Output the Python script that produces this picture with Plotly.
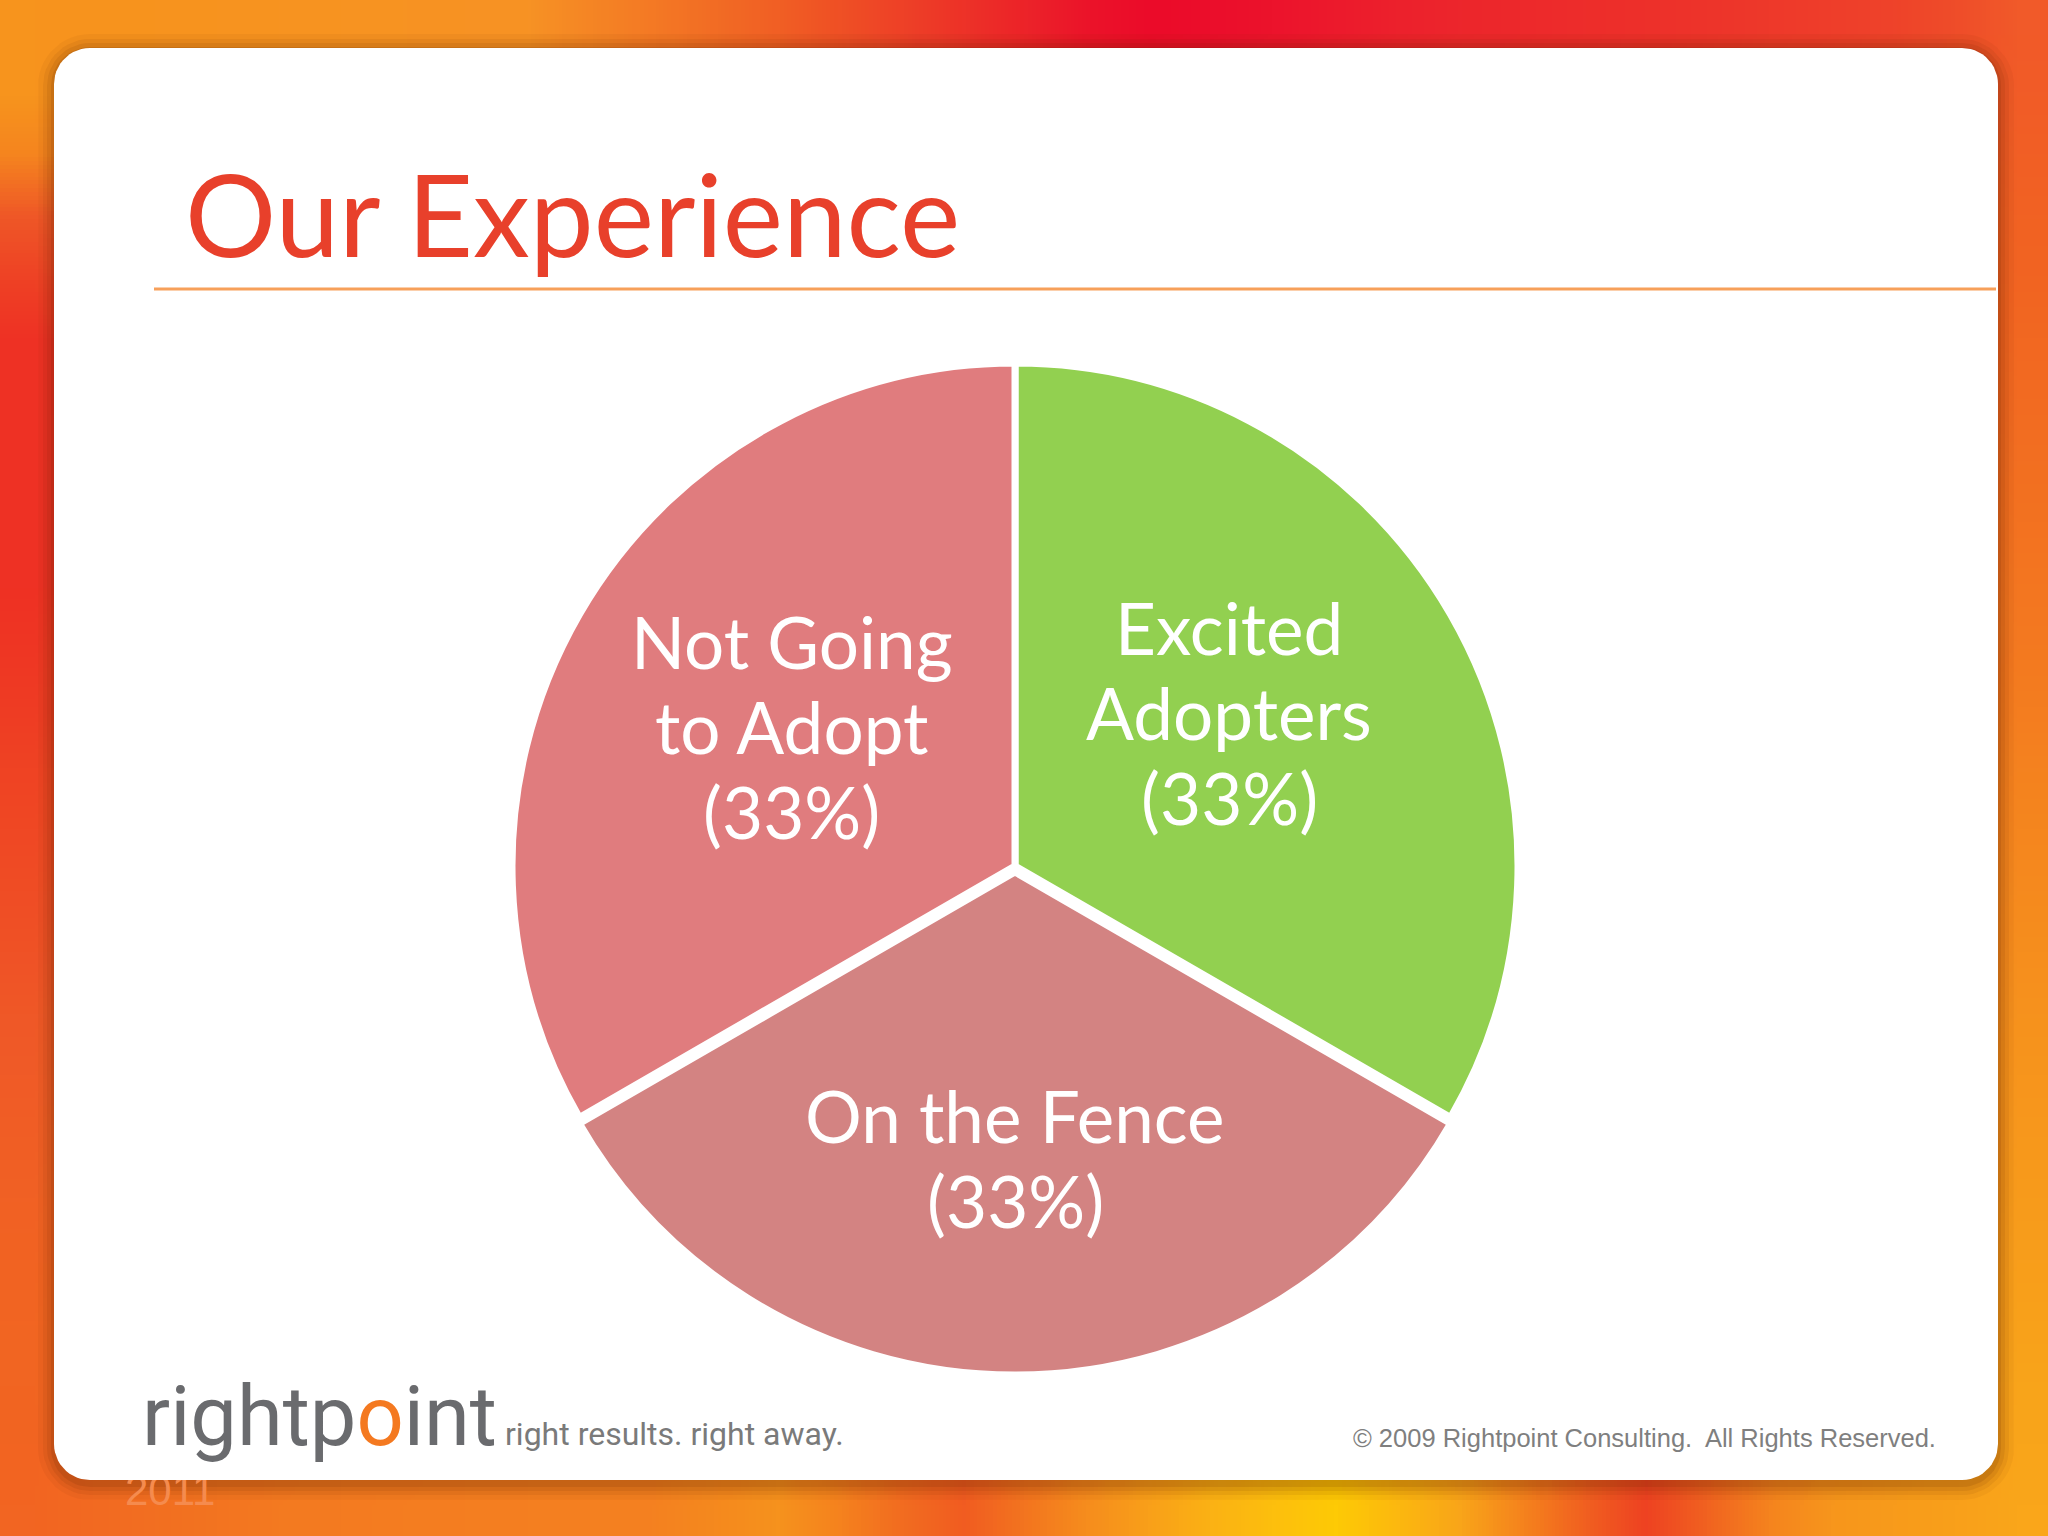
import base64, struct, zlib
import numpy as np
import plotly.graph_objects as go

# ---------------- data ----------------
labels = ["Excited Adopters", "On the Fence", "Not Going to Adopt"]
label_lines = [["Excited", "Adopters", "(33%)"], ["On the Fence", "(33%)"], ["Not Going", "to Adopt", "(33%)"]]
values = [33, 33, 33]
slice_colors = ["#92D050", "#D38382", "#E07C7E"]
pulls = [0, 0.012, 0]
label_radius = [0.52, 0.575, 0.52]
label_angle_shift = [-5, 0, 1.5]

title_text = "Our Experience"
copyright_text = "© 2009 Rightpoint Consulting.  All Rights Reserved."
tagline_text = "right results. right away."
year_text = "2011"

W, H = 2048, 1536

# ---------------- background image (decoration) ----------------
def interp_colors(points, n):
    pos = np.array([p[0] for p in points], dtype=float)
    cols = np.array([[int(p[1][i:i + 2], 16) for i in (1, 3, 5)] for p in points], dtype=float)
    t = np.linspace(0, 1, n)
    return np.stack([np.interp(t, pos, cols[:, c]) for c in range(3)], axis=1)

top_pts = [(0, "#F7941D"), (0.25, "#F89B22"), (0.38, "#F26A21"), (0.48, "#EF3D25"),
           (0.55, "#ED1C24"), (0.61, "#EE2427"), (0.70, "#EF3B26"), (0.83, "#F04E23"),
           (0.95, "#F26522"), (1.0, "#F47B20")]
bot_pts = [(0, "#F26522"), (0.13, "#F47B20"), (0.32, "#F58220"), (0.38, "#F7941D"),
           (0.465, "#F15A22"), (0.54, "#F7941D"), (0.605, "#FDB913"), (0.657, "#FFCB05"),
           (0.72, "#F9A51A"), (0.81, "#EE4023"), (0.89, "#F7941D"), (1.0, "#FAA61A")]
left_pts = [(0, "#F7941D"), (0.07, "#F7941D"), (0.12, "#F05A28"), (0.2, "#EE3124"),
            (0.38, "#EE3124"), (0.5, "#EF4323"), (0.68, "#F05A28"), (0.85, "#F26522"),
            (1.0, "#F26522")]
right_pts = [(0, "#F15A29"), (0.17, "#F26522"), (0.43, "#F47B20"), (0.68, "#F7941D"),
             (0.93, "#F9A51A"), (1.0, "#FAA61A")]

GW, GH = 33, 25
T = interp_colors(top_pts, GW)
B = interp_colors(bot_pts, GW)
L = interp_colors(left_pts, GH)
R = interp_colors(right_pts, GH)
u = np.linspace(0, 1, GW)[None, :, None]
v = np.linspace(0, 1, GH)[:, None, None]
coons = ((1 - v) * T[None, :, :] + v * B[None, :, :] + (1 - u) * L[:, None, :] + u * R[:, None, :]
         - ((1 - u) * (1 - v) * T[0] + u * (1 - v) * T[-1] + (1 - u) * v * B[0] + u * v * B[-1]))
img = np.clip(coons, 0, 255).astype(np.uint8)

def png_uri(a):
    h, w, _ = a.shape
    raw = b"".join(b"\x00" + a[i].tobytes() for i in range(h))
    def chunk(tag, data):
        c = tag + data
        return struct.pack(">I", len(data)) + c + struct.pack(">I", zlib.crc32(c) & 0xFFFFFFFF)
    png = (b"\x89PNG\r\n\x1a\n" + chunk(b"IHDR", struct.pack(">IIBBBBB", w, h, 8, 2, 0, 0, 0))
           + chunk(b"IDAT", zlib.compress(raw, 9)) + chunk(b"IEND", b""))
    return "data:image/png;base64," + base64.b64encode(png).decode()

def rounded_rect(x0, y0, x1, y1, r, n=14):
    xs, ys = [], []
    corners = [(x1 - r, y0 + r, -90, 0), (x1 - r, y1 - r, 0, 90),
               (x0 + r, y1 - r, 90, 180), (x0 + r, y0 + r, 180, 270)]
    for cx_, cy_, a0, a1 in corners:
        for a in np.linspace(np.radians(a0), np.radians(a1), n):
            xs.append(cx_ + r * np.cos(a))
            ys.append(cy_ + r * np.sin(a))
    xs.append(xs[0]); ys.append(ys[0])
    return xs, ys

fig = go.Figure()

# card shadow layers
card = (54, 48, 1998, 1480)
for e, op in [(16, 0.05), (11, 0.07), (7, 0.09), (3, 0.12)]:
    xs, ys = rounded_rect(card[0] - e, card[1] - e + 2, card[2] + e, card[3] + e + 4, 36 + e)
    fig.add_trace(go.Scatter(x=xs, y=ys, mode="lines", fill="toself", line=dict(width=0),
                             fillcolor=f"rgba(90,30,0,{op})", hoverinfo="skip", showlegend=False))

# faint year text (partly hidden by card)
fig.add_trace(go.Scatter(x=[125], y=[1494], mode="text", text=[year_text], textposition="middle right",
                         textfont=dict(family="Liberation Sans, Arial", size=42, color="#F58B4E"),
                         hoverinfo="skip", showlegend=False))

# white card
xs, ys = rounded_rect(*card, 36)
fig.add_trace(go.Scatter(x=xs, y=ys, mode="lines", fill="toself", line=dict(width=0),
                         fillcolor="#FFFFFF", hoverinfo="skip", showlegend=False))

# ---------------- pie ----------------
cx, cy, R0 = 1015, 866, 503
maxpull = max(pulls)
half = R0 * (1 + maxpull)
fig.add_trace(go.Pie(
    labels=labels, values=values, sort=False, direction="clockwise", rotation=0,
    marker=dict(colors=slice_colors, line=dict(color="white", width=7)),
    pull=pulls, textinfo="none", hoverinfo="label+percent", showlegend=False,
    domain=dict(x=[(cx - half) / W, (cx + half) / W], y=[1 - (cy + half) / H, 1 - (cy - half) / H]),
))

annotations = []
total = sum(values)
cum = 0
line_gap = 85
for lines, val, rf, pl, sh in zip(label_lines, values, label_radius, pulls, label_angle_shift):
    mid = ((cum + val / 2) / total * 360 + sh) * np.pi / 180
    cum += val
    rr = (rf + pl) * R0
    lx, ly = cx + rr * np.sin(mid), cy - rr * np.cos(mid)
    n = len(lines)
    for i, t in enumerate(lines):
        annotations.append(dict(x=lx, y=ly - 3 + (i - (n - 1) / 2) * line_gap, xref="x", yref="y",
                                text=t, showarrow=False, xanchor="center", yanchor="middle",
                                font=dict(family="Lato, Noto Sans, sans-serif", size=71, color="white")))

annotations += [
    dict(x=183, y=212, xref="x", yref="y", text=title_text, showarrow=False, xanchor="left",
         yanchor="middle", font=dict(family="Lato, Noto Sans, sans-serif", size=114, color="#E8402B")),
    dict(x=1938, y=1438, xref="x", yref="y", text=copyright_text, showarrow=False, xanchor="right",
         yanchor="middle", font=dict(family="Liberation Sans, Arial", size=25.5, color="#7F7F7F")),
    dict(x=140, y=1416, xref="x", yref="y",
         text="rightp<span style='color:#F47920'>o</span>int", showarrow=False, xanchor="left",
         yanchor="middle", font=dict(family="Roboto, sans-serif", size=83, color="#6A6B6E")),
    dict(x=503, y=1434, xref="x", yref="y", text=tagline_text, showarrow=False, xanchor="left",
         yanchor="middle", font=dict(family="Roboto, sans-serif", size=32, color="#7A7A7A")),
]

fig.update_layout(
    width=W, height=H, margin=dict(l=0, r=0, t=0, b=0),
    paper_bgcolor="#F26522", plot_bgcolor="rgba(0,0,0,0)",
    xaxis=dict(range=[0, W], visible=False, fixedrange=True, domain=[0, 1]),
    yaxis=dict(range=[H, 0], visible=False, fixedrange=True, domain=[0, 1]),
    images=[dict(source=png_uri(img), xref="paper", yref="paper", x=0, y=1, sizex=1, sizey=1,
                 xanchor="left", yanchor="top", sizing="stretch", layer="below")],
    shapes=[dict(type="line", xref="x", yref="y", x0=154, x1=1996, y0=289, y1=289,
                 line=dict(color="#F7A05A", width=3), layer="above")],
    annotations=annotations,
)

fig.write_html("out.html", config={"displayModeBar": False},
               post_script="document.body.style.margin='0';document.body.style.overflow='hidden';")
